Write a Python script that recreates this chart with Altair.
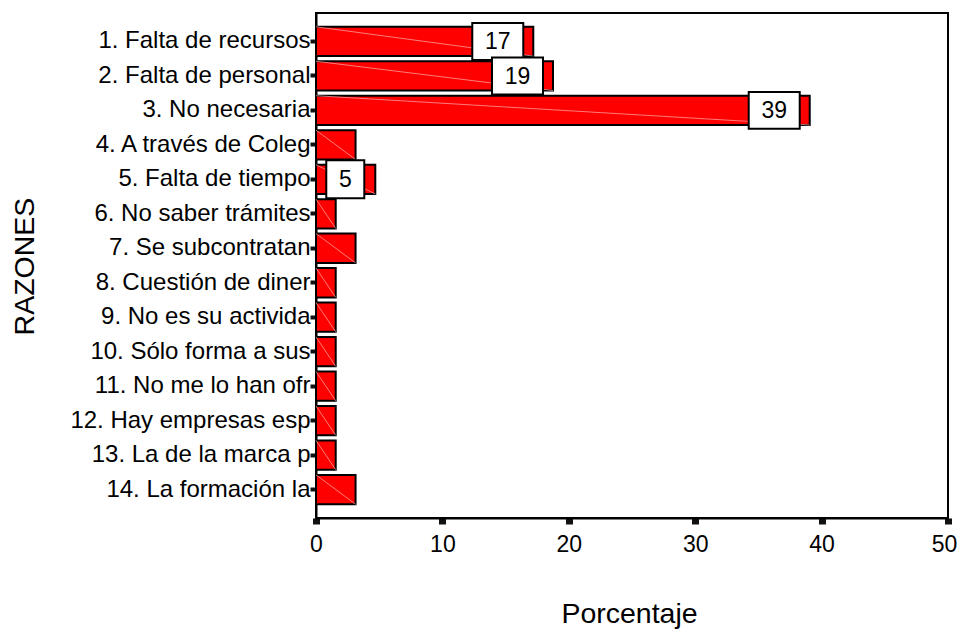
import altair as alt
import pandas as pd

reasons = [
    "1. Falta de recursos",
    "2. Falta de personal",
    "3. No necesaria",
    "4. A través de Coleg",
    "5. Falta de tiempo",
    "6. No saber trámites",
    "7. Se subcontratan",
    "8. Cuestión de diner",
    "9. No es su activida",
    "10. Sólo forma a sus",
    "11. No me lo han ofr",
    "12. Hay empresas esp",
    "13. La de la marca p",
    "14. La formación la",
]
percent = [17.19, 18.75, 39.06, 3.13, 4.69, 1.56, 3.13, 1.56, 1.56, 1.56, 1.56, 1.56, 1.56, 3.13]
labels = ["17", "19", "39", "", "5", "", "", "", "", "", "", "", "", ""]
x_ticks = [0, 10, 20, 30, 40, 50]

df = pd.DataFrame({"reason": reasons, "pct": percent, "label": labels})
df["zero"] = 0.0

FONT = "Liberation Sans"

y_enc = alt.Y(
    "reason:N",
    sort=reasons,
    scale=alt.Scale(paddingInner=0.15, paddingOuter=0.4),
    axis=alt.Axis(
        title="RAZONES",
        titleFontSize=28.5,
        titleFontWeight="normal",
        titleFont=FONT,
        titleColor="black",
        titleAngle=-90,
        titleAlign="center",
        titleBaseline="middle",
        titleX=-292,
        titleY=253,
        labelFontSize=24,
        labelFont=FONT,
        labelColor="black",
        labelLimit=0,
        labelPadding=0,
        tickSize=6,
        tickWidth=4,
        tickColor="#111111",
        domainColor="black",
        domainWidth=2,
    ),
)

x_enc = alt.X(
    "pct:Q",
    scale=alt.Scale(domain=[0, 50], nice=False, zero=True),
    axis=alt.Axis(
        title="Porcentaje",
        values=x_ticks,
        grid=False,
        titleFontSize=28.5,
        titleFontWeight="normal",
        titleFont=FONT,
        titleColor="black",
        titleBaseline="alphabetic",
        titleY=104,
        titleX=313,
        labelFontSize=23,
        labelFont=FONT,
        labelColor="black",
        labelPadding=9,
        labelFlush=False,
        labelOffset={"condition": {"test": "datum.value == 50", "value": -4}, "value": 0},
        tickSize=6,
        tickWidth=7,
        tickColor="#111111",
        domainColor="black",
        domainWidth=2,
    ),
)

base = alt.Chart(df)

bars = base.mark_bar(color="#ff0000", stroke="black", strokeWidth=2).encode(y=y_enc, x=x_enc)

diag = base.mark_rule(color="#ffb0b0", strokeWidth=0.7).encode(
    x=alt.X("zero:Q"),
    x2=alt.X2("pct:Q"),
    y=alt.Y("reason:N", sort=reasons, bandPosition=0),
    y2=alt.Y2("reason:N", bandPosition=1),
)

lab = base.transform_filter("datum.label != ''").transform_calculate(n="length(datum.label)")

box2 = lab.transform_filter("datum.n == 2").mark_point(
    shape="M-1,-0.725L1,-0.725L1,0.725L-1,0.725Z",
    size=2601,
    filled=True,
    fill="white",
    stroke="black",
    strokeWidth=2,
    opacity=1,
    xOffset=-35.5,
).encode(x=alt.X("pct:Q"), y=alt.Y("reason:N", sort=reasons))

box1 = lab.transform_filter("datum.n == 1").mark_point(
    shape="M-1,-1L1,-1L1,1L-1,1Z",
    size=1444,
    filled=True,
    fill="white",
    stroke="black",
    strokeWidth=2,
    opacity=1,
    xOffset=-30,
).encode(x=alt.X("pct:Q"), y=alt.Y("reason:N", sort=reasons))

txt2 = lab.transform_filter("datum.n == 2").mark_text(
    font=FONT, fontSize=23, color="black", align="center", baseline="middle", xOffset=-35.5, dy=1
).encode(x=alt.X("pct:Q"), y=alt.Y("reason:N", sort=reasons), text="label:N")

txt1 = lab.transform_filter("datum.n == 1").mark_text(
    font=FONT, fontSize=23, color="black", align="center", baseline="middle", xOffset=-30, dy=1
).encode(x=alt.X("pct:Q"), y=alt.Y("reason:N", sort=reasons), text="label:N")

chart = (
    alt.layer(bars, diag, box2, box1, txt2, txt1)
    .properties(
        width=632,
        height=505,
        autosize=alt.AutoSizeParams(type="none"),
        padding={"left": 308, "top": 5, "right": 10, "bottom": 111},
    )
    .configure(
        font=FONT,
        background="white",
        view=alt.ViewConfig(stroke="black", strokeWidth=2),
    )
)

chart.save("out.html", embed_options={"renderer": "svg", "actions": False})
